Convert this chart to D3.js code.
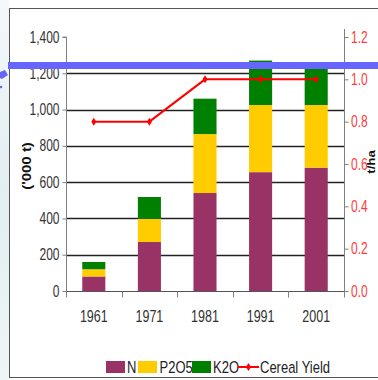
<!DOCTYPE html>
<html>
<head>
<meta charset="utf-8">
<script src="https://cdn.jsdelivr.net/npm/d3@7"></script>
<style>
  html, body { margin: 0; padding: 0; background: #fff; }
  svg { display: block; }
  text { font-family: "Liberation Sans Narrow", "Arial Narrow", "Liberation Sans", sans-serif; }
</style>
</head>
<body>
<svg id="chart" width="378" height="380"></svg>
<script>
// Fertiliser consumption ('000 t) by nutrient and cereal yield (t/ha)
const years = ["1961", "1971", "1981", "1991", "2001"];
const nutrients = ["N", "P2O5", "K2O"];
const nValues = [80, 270, 540, 655, 680];
const p2o5Values = [40, 128, 325, 370, 345];
const k2oValues = [40, 120, 195, 245, 205];
const cerealYield = [0.8, 0.8, 1.0, 1.0, 1.0];
const leftTicks = [0, 200, 400, 600, 800, 1000, 1200, 1400];
const rightTicks = [0.0, 0.2, 0.4, 0.6, 0.8, 1.0, 1.2];
const colors = { N: "#993366", P2O5: "#FFCC00", K2O: "#008000", yield: "#FF0000" };

const svg = d3.select("#chart");

// slide backdrop strip on the left
const defs = svg.append("defs");
const grad = defs.append("linearGradient").attr("id", "slideBg")
  .attr("x1", 0).attr("y1", 0).attr("x2", 0).attr("y2", 1);
grad.append("stop").attr("offset", "0%").attr("stop-color", "#f4f8fa");
grad.append("stop").attr("offset", "50%").attr("stop-color", "#e2eef2");
grad.append("stop").attr("offset", "100%").attr("stop-color", "#eef5f7");
svg.append("rect").attr("x", 0).attr("y", 0).attr("width", 9).attr("height", 380)
  .attr("fill", "url(#slideBg)");

// chart frame
svg.append("rect").attr("x", 9.5).attr("y", 8.5).attr("width", 380).attr("height", 369)
  .attr("fill", "#fff").attr("stroke", "#555").attr("stroke-width", 1);

const plot = { left: 66, right: 344, top: 37, bottom: 291 };

const x = d3.scaleBand().domain(years).range([plot.left, plot.right])
  .paddingInner(0.585).paddingOuter(0.2925);
const y = d3.scaleLinear().domain([0, 1400]).range([plot.bottom, plot.top]);
const y2 = d3.scaleLinear().domain([0, 1.2]).range([plot.bottom, plot.top]);

const rows = years.map((yr, i) => ({ year: yr, N: nValues[i], P2O5: p2o5Values[i], K2O: k2oValues[i] }));
const stacked = d3.stack().keys(nutrients)(rows);

// gridlines
svg.append("g").selectAll("line")
  .data(leftTicks.filter(t => t > 0 && t < 1400))
  .join("line")
  .attr("x1", plot.left).attr("x2", plot.right)
  .attr("y1", d => Math.round(y(d)) + 0.5).attr("y2", d => Math.round(y(d)) + 0.5)
  .attr("stroke", "#222").attr("stroke-width", 1.4);

// stacked bars
svg.append("g").selectAll("g")
  .data(stacked)
  .join("g")
  .attr("fill", d => colors[d.key])
  .selectAll("rect")
  .data(d => d)
  .join("rect")
  .attr("x", d => x(d.data.year))
  .attr("width", x.bandwidth())
  .attr("y", d => y(d[1]))
  .attr("height", d => y(d[0]) - y(d[1]));

// left axis
const leftAxis = d3.axisLeft(y).tickValues(leftTicks).tickSize(4).tickFormat("");
const gl = svg.append("g").attr("transform", `translate(${plot.left + 0.5},0)`).call(leftAxis);
gl.select(".domain").attr("stroke", "#808080").attr("d", `M-4,${plot.top}H0V${plot.bottom + 6}`);
gl.selectAll(".tick line").attr("stroke", "#808080");

// right axis
const rightAxis = d3.axisRight(y2).tickValues(rightTicks).tickSize(4).tickFormat("");
const gr = svg.append("g").attr("transform", `translate(${plot.right + 0.5},0)`).call(rightAxis);
gr.select(".domain").attr("stroke", "#808080").attr("d", `M0,${plot.top - 8}V${plot.bottom + 6}`);
gr.selectAll(".tick line").attr("stroke", "#808080");

// category axis with ticks between the bars
const xAxisY = Math.round(y(0)) + 0.5;
svg.append("line").attr("x1", plot.left).attr("x2", plot.right)
  .attr("y1", xAxisY).attr("y2", xAxisY).attr("stroke", "#555").attr("stroke-width", 1.2);
const bounds = years.map(d => x(d) - (x.step() - x.bandwidth()) / 2).concat([plot.right]);
svg.append("g").selectAll("line").data(bounds).join("line")
  .attr("x1", d => Math.round(d) + 0.5).attr("x2", d => Math.round(d) + 0.5)
  .attr("y1", xAxisY).attr("y2", xAxisY + 6)
  .attr("stroke", "#808080");

// stretched label helper (tall narrow lettering)
function label(g, text, tx, ty, opts) {
  const o = Object.assign({ size: 12, fill: "#333", anchor: "middle", rotate: 0, sy: 1.3, weight: "normal", family: null }, opts);
  const t = g.append("text")
    .attr("transform", `translate(${tx},${ty}) rotate(${o.rotate}) scale(${o.rotate ? o.sy : 1},${o.rotate ? 1 : o.sy})`)
    .attr("text-anchor", o.anchor)
    .attr("dominant-baseline", "central")
    .attr("font-size", o.size)
    .attr("font-weight", o.weight)
    .attr("fill", o.fill)
    .text(text);
  if (o.family) t.style("font-family", o.family);
  return t;
}

const labels = svg.append("g");
const fmtLeft = d3.format(",");
leftTicks.forEach(t => label(labels, fmtLeft(t), 59.5, y(t), { anchor: "end", fill: "#333" }));
rightTicks.forEach(t => label(labels, d3.format(".1f")(t), 351, y2(t), { anchor: "start", fill: "#ff3b3b" }));
years.forEach(yr => label(labels, yr, x(yr) + x.bandwidth() / 2, 316, { size: 12.5, fill: "#333" }));

// axis titles
label(labels, "('000 t)", 27, 166, { rotate: -90, size: 12, weight: "bold", fill: "#111", family: "'Liberation Sans', Arial, sans-serif", sy: 1.25 });
label(labels, "t/ha", 371, 162, { rotate: -90, size: 11, weight: "bold", fill: "#111", family: "'Liberation Sans', Arial, sans-serif", sy: 1.2 });

// cereal yield line
const line = d3.line().x((d, i) => x(years[i]) + x.bandwidth() / 2).y(d => y2(d));
svg.append("path").datum(cerealYield)
  .attr("d", line).attr("fill", "none")
  .attr("stroke", colors.yield).attr("stroke-width", 2);
const marker = "M0,-4L2.5,0L0,4L-2.5,0Z";
svg.append("g").selectAll("path").data(cerealYield).join("path")
  .attr("transform", (d, i) => `translate(${x(years[i]) + x.bandwidth() / 2},${y2(d)})`)
  .attr("d", marker).attr("fill", colors.yield);

// legend
const legend = svg.append("g");
const legY = 367;
const items = [
  { key: "N", sx: 106, tx: 127 },
  { key: "P2O5", sx: 138, tx: 159.5 },
  { key: "K2O", sx: 192, tx: 213 }
];
items.forEach(it => {
  legend.append("rect").attr("x", it.sx).attr("y", legY - 6).attr("width", 19).attr("height", 12)
    .attr("fill", colors[it.key]);
  label(legend, it.key, it.tx, legY, { anchor: "start", size: 13, fill: "#222" });
});
legend.append("line").attr("x1", 238).attr("x2", 259).attr("y1", legY).attr("y2", legY)
  .attr("stroke", colors.yield).attr("stroke-width", 2);
legend.append("path").attr("transform", `translate(248.5,${legY})`).attr("d", marker).attr("fill", colors.yield);
label(legend, "Cereal Yield", 260, legY, { anchor: "start", size: 13, fill: "#222" });

// slide decoration: blue rule and pointer
svg.append("rect").attr("x", 8).attr("y", 62).attr("width", 370).attr("height", 7).attr("fill", "#6666ff");
svg.append("path").attr("d", "M0,72L5,70L8,75L2,79L0,78Z").attr("fill", "#6666ff");
svg.append("circle").attr("cx", 1).attr("cy", 87).attr("r", 1.3).attr("fill", "#6666ff");
</script>
</body>
</html>
